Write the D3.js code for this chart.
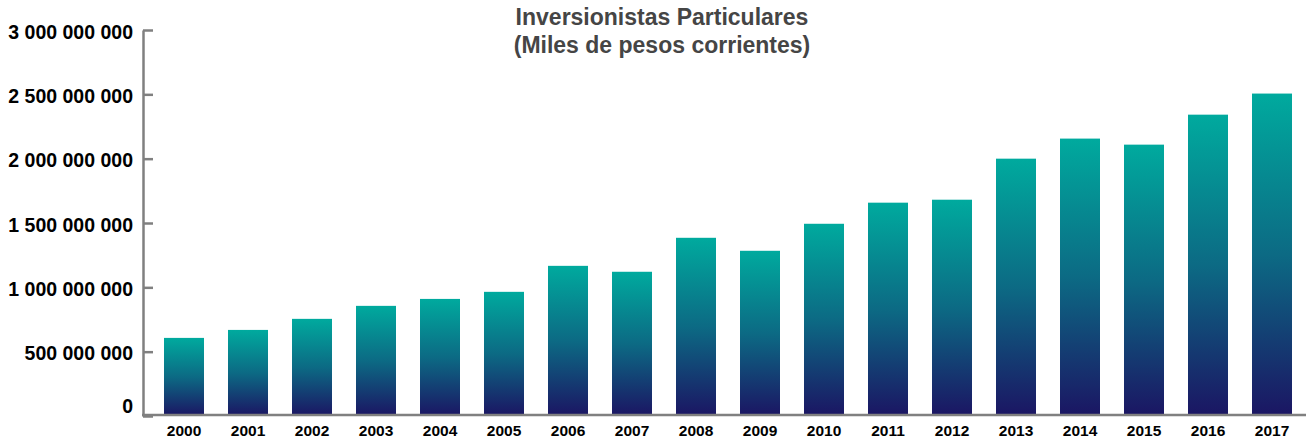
<!DOCTYPE html>
<html>
<head>
<meta charset="utf-8">
<script src="https://cdn.jsdelivr.net/npm/d3@7"></script>
<style>
  html, body { margin: 0; padding: 0; background: #fff; }
  svg { display: block; font-family: "Liberation Sans", Arial, Helvetica, sans-serif; }
</style>
</head>
<body>
<svg id="chart" width="1306" height="438"></svg>
<script>
// Inversionistas particulares, miles de pesos corrientes
const years = ["2000","2001","2002","2003","2004","2005","2006","2007","2008",
               "2009","2010","2011","2012","2013","2014","2015","2016","2017"];
const values = [607e6, 669e6, 755e6, 856e6, 910e6, 965e6, 1167e6, 1121e6, 1385e6,
                1284e6, 1494e6, 1658e6, 1681e6, 2000e6, 2156e6, 2109e6, 2342e6, 2506e6];
const yTicks = [0, 500e6, 1000e6, 1500e6, 2000e6, 2500e6, 3000e6];
const titleLines = ["Inversionistas Particulares", "(Miles de pesos corrientes)"];

const svg = d3.select("#chart");
const W = 1306;

const x = d3.scaleBand()
  .domain(years)
  .range([152, 1304])
  .paddingInner(0.375)
  .paddingOuter(0.1875);

const y = d3.scaleLinear()
  .domain([0, 3000e6])
  .range([416, 30]);

// vertical gradient applied to each bar
const defs = svg.append("defs");
const grad = defs.append("linearGradient")
  .attr("id", "barFill")
  .attr("x1", 0).attr("y1", 0).attr("x2", 0).attr("y2", 1);
grad.append("stop").attr("offset", "0%").attr("stop-color", "#00aa9e");
grad.append("stop").attr("offset", "50%").attr("stop-color", "#0c6a84");
grad.append("stop").attr("offset", "100%").attr("stop-color", "#1b1563");

// bars
svg.append("g")
  .selectAll("rect")
  .data(values)
  .join("rect")
  .attr("x", (d, i) => x(years[i]))
  .attr("y", d => y(d))
  .attr("width", x.bandwidth())
  .attr("height", d => y(0) - y(d))
  .attr("fill", "url(#barFill)");

// y axis with ticks pointing into the plot
const fmt = v => d3.format(",")(v).replace(/,/g, " ");
const yAxis = svg.append("g")
  .attr("transform", "translate(143,0)")
  .call(d3.axisLeft(y).tickValues(yTicks).tickFormat(fmt)
        .tickSizeInner(-10).tickSizeOuter(0).tickPadding(10));
yAxis.select(".domain").attr("stroke", "#808080").attr("stroke-width", 2.5);
yAxis.selectAll(".tick line").attr("stroke", "#808080").attr("stroke-width", 2.5);
yAxis.selectAll(".tick text")
  .attr("fill", "#000")
  .attr("font-size", 19.5)
  .attr("font-weight", "bold")
  .attr("dy", d => d === 0 ? "-0.2em" : "0.42em");

// x axis baseline and year labels
const xAxis = svg.append("g")
  .attr("transform", "translate(0,415)")
  .call(d3.axisBottom(x).tickSize(0).tickPadding(10));
xAxis.select(".domain").remove();
xAxis.append("line")
  .attr("x1", 142).attr("x2", W).attr("y1", 0).attr("y2", 0)
  .attr("stroke", "#808080").attr("stroke-width", 2.5);
xAxis.selectAll(".tick text")
  .attr("fill", "#000")
  .attr("font-size", 15.5)
  .attr("font-weight", "bold");

// title
svg.append("g")
  .selectAll("text")
  .data(titleLines)
  .join("text")
  .attr("x", 662)
  .attr("y", (d, i) => 25 + i * 28)
  .attr("text-anchor", "middle")
  .attr("font-size", 23)
  .attr("font-weight", "bold")
  .attr("fill", "#454545")
  .text(d => d);
</script>
</body>
</html>
